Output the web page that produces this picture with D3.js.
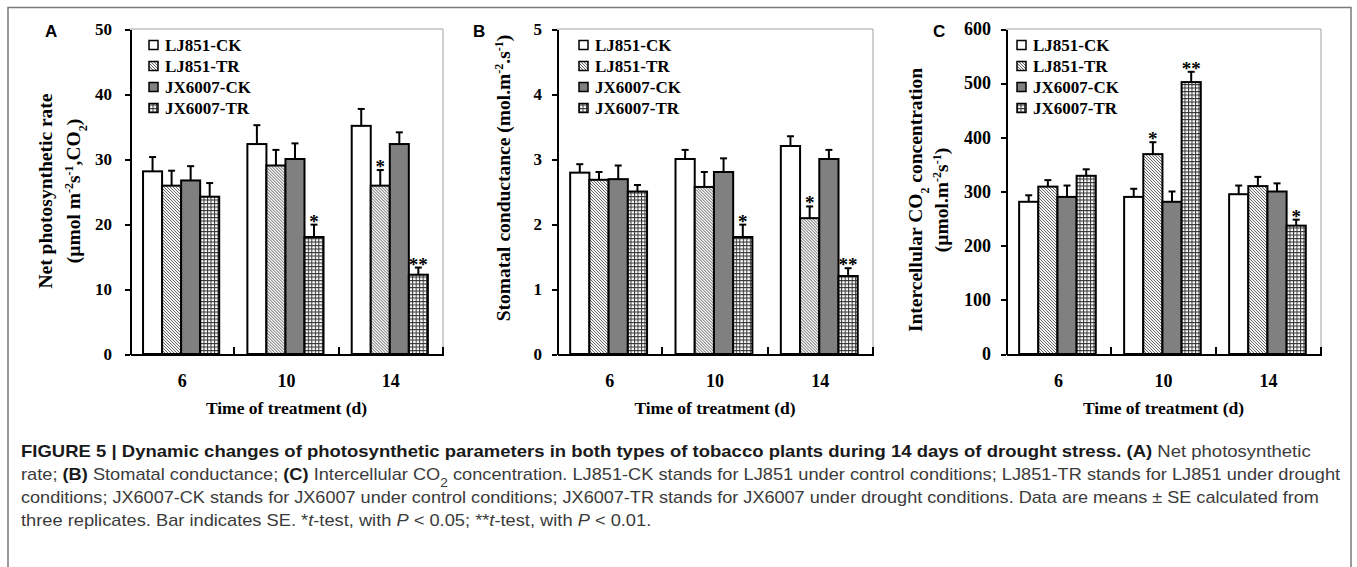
<!DOCTYPE html>
<html lang="en">
<head>
<meta charset="utf-8">
<title>Figure 5</title>
<script src="https://cdn.jsdelivr.net/npm/d3@7"></script>
<style>
  body { margin: 0; background: #fff; }
  .axis path, .axis line { stroke: #000; stroke-width: 2; shape-rendering: crispEdges; }
</style>
</head>
<body>
<script>
// categories and series
var times = ["6", "10", "14"];
var series = ["LJ851-CK", "LJ851-TR", "JX6007-CK", "JX6007-TR"];

// A: net photosynthetic rate, rows = time, cols = series
var netPhoto = [[28.1, 25.9, 26.7, 24.2], [32.3, 29.0, 30.0, 18.0], [35.1, 25.9, 32.3, 12.2]];
var netPhotoSE = [[2.2, 2.3, 2.2, 2.1], [2.9, 2.4, 2.4, 1.9], [2.6, 2.4, 1.8, 1.1]];
var netPhotoSig = [["", "", "", ""], ["", "", "", "*"], ["", "*", "", "**"]];
var netPhotoTicks = [0, 10, 20, 30, 40, 50];

// B: stomatal conductance
var stomatal = [[2.79, 2.68, 2.69, 2.50], [3.0, 2.57, 2.8, 1.8], [3.2, 2.09, 3.0, 1.2]];
var stomatalSE = [[0.13, 0.12, 0.21, 0.10], [0.14, 0.23, 0.21, 0.19], [0.15, 0.18, 0.14, 0.12]];
var stomatalSig = [["", "", "", ""], ["", "", "", "*"], ["", "*", "", "**"]];
var stomatalTicks = [0, 1, 2, 3, 4, 5];

// C: intercellular CO2 concentration
var intercell = [[281, 309, 290, 329], [290, 369, 281, 502], [295, 310, 300, 237]];
var intercellSE = [[12, 12, 21, 12], [15, 22, 19, 19], [16, 17, 15, 11]];
var intercellSig = [["", "", "", ""], ["", "*", "", "**"], ["", "", "", "*"]];
var intercellTicks = [0, 100, 200, 300, 400, 500, 600];

var serif = "'Liberation Serif','Times New Roman',serif";
var sans = "'Liberation Sans',Arial,sans-serif";

var svg = d3.select("body").append("svg")
    .attr("width", 1357).attr("height", 567);

// patterns for the bar fills
var defs = svg.append("defs");
var hatch = defs.append("pattern").attr("id", "hatch")
    .attr("patternUnits", "userSpaceOnUse").attr("width", 3).attr("height", 3);
hatch.append("rect").attr("width", 3).attr("height", 3).attr("fill", "#f4f4f4");
hatch.append("path").attr("d", "M-1,-1L4,4M2,-1L4,1M-1,2L1,4")
    .attr("stroke", "#5a5a5a").attr("stroke-width", 0.9);
var grid = defs.append("pattern").attr("id", "grid")
    .attr("patternUnits", "userSpaceOnUse").attr("width", 3.5).attr("height", 3.5);
grid.append("rect").attr("width", 3.5).attr("height", 3.5).attr("fill", "#fff");
grid.append("path").attr("d", "M0,0.5H3.5M0.5,0V3.5")
    .attr("stroke", "#333").attr("stroke-width", 1);

var fills = ["#fff", "url(#hatch)", "#808080", "url(#grid)"];

// outer figure frame
svg.append("path").attr("d", "M8,567V7.5H1351V567")
    .attr("fill", "none").attr("stroke", "#7a7a7a").attr("stroke-width", 1.5);

var plotTop = 29, plotBottom = 354;

var panels = [
  {letter: "A", lx: 45, left: 130, right: 443, values: netPhoto, se: netPhotoSE, sig: netPhotoSig,
   ticks: netPhotoTicks, pad: 13, tickFont: 17, legX: 149,
   titles: [{x: 52, yc: 191, parts: [["Net photosynthetic rate"]]},
            {x: 80, yc: 191, parts: [["(\u00b5mol m"], ["-2", "sup"], ["s"], ["-1", "sup"], [",CO"], ["2", "sub"], [")"]]}]},
  {letter: "B", lx: 473, left: 557, right: 873, values: stomatal, se: stomatalSE, sig: stomatalSig,
   ticks: stomatalTicks, pad: 10, tickFont: 17, legX: 579,
   titles: [{x: 510, yc: 178, parts: [["Stomatal conductance (mol.m"], ["-2", "sup"], [".s"], ["-1", "sup"], [")"]]}]},
  {letter: "C", lx: 933, left: 1006, right: 1321, values: intercell, se: intercellSE, sig: intercellSig,
   ticks: intercellTicks, pad: 10, tickFont: 18, legX: 1017,
   titles: [{x: 922, yc: 200, parts: [["Intercellular CO"], ["2", "sub"], [" concentration"]]},
            {x: 948, yc: 200, parts: [["(\u00b5mol.m"], ["-2", "sup"], ["s"], ["-1", "sup"], [")"]]}]}
];

panels.forEach(function(p) {
    var dom = [p.ticks[0], p.ticks[p.ticks.length - 1]];
    var y = d3.scaleLinear().domain(dom).range([plotBottom, plotTop]);
    var x0 = d3.scaleBand().domain(times).range([p.left, p.right]);
    var bw = x0.bandwidth();
    var x1 = d3.scaleBand().domain(series).range([bw * 0.125, bw * 0.855]);

    var g = svg.append("g");

    // light plot frame (top and right)
    g.append("path")
        .attr("d", "M" + p.left + "," + plotTop + "H" + p.right + "V" + plotBottom)
        .attr("fill", "none").attr("stroke", "#a0a0a0").attr("stroke-width", 1);

    // bars
    var groups = g.selectAll(".grp").data(times).enter().append("g")
        .attr("transform", function(t) { return "translate(" + x0(t) + ",0)"; });

    groups.each(function(t, i) {
        var rows = series.map(function(s, j) {
            return {s: s, j: j, v: p.values[i][j], e: p.se[i][j], sig: p.sig[i][j]};
        });
        var gg = d3.select(this);
        gg.selectAll("rect").data(rows).enter().append("rect")
            .attr("x", function(d) { return x1(d.s); })
            .attr("y", function(d) { return y(d.v); })
            .attr("width", x1.bandwidth())
            .attr("height", function(d) { return plotBottom - y(d.v); })
            .attr("fill", function(d) { return fills[d.j]; })
            .attr("stroke", "#000").attr("stroke-width", 2);
        // error bars
        rows.forEach(function(d) {
            var cx = x1(d.s) + x1.bandwidth() / 2;
            var yt = y(d.v + d.e);
            gg.append("line").attr("x1", cx).attr("x2", cx)
                .attr("y1", y(d.v)).attr("y2", yt)
                .attr("stroke", "#000").attr("stroke-width", 2);
            gg.append("line").attr("x1", cx - 3.5).attr("x2", cx + 3.5)
                .attr("y1", yt).attr("y2", yt)
                .attr("stroke", "#000").attr("stroke-width", 2);
            if (d.sig) {
                gg.append("text").attr("x", cx).attr("y", yt + 3)
                    .attr("text-anchor", "middle")
                    .style("font-family", serif).style("font-weight", "bold").style("font-size", "19px")
                    .text(d.sig);
            }
        });
    });

    // y axis
    var yAxis = d3.axisLeft(y).tickValues(p.ticks).tickFormat(d3.format("d"))
        .tickSize(5).tickSizeOuter(0).tickPadding(p.pad);
    var ya = g.append("g").attr("class", "axis")
        .attr("transform", "translate(" + p.left + ",0)")
        .call(yAxis);
    ya.selectAll("text").style("font-family", serif).style("font-weight", "bold")
        .style("font-size", p.tickFont + "px").attr("fill", "#000");

    // x axis
    var xAxis = d3.axisBottom(x0).tickSize(0).tickSizeOuter(0).tickPadding(20);
    var xa = g.append("g").attr("class", "axis")
        .attr("transform", "translate(0," + plotBottom + ")")
        .call(xAxis);
    xa.selectAll("text").style("font-family", serif).style("font-weight", "bold")
        .style("font-size", "18px").attr("fill", "#000");
    // group separator ticks pointing up
    xa.selectAll(".sep").data(times).enter().append("line")
        .attr("x1", function(t) { return x0(t) + bw; })
        .attr("x2", function(t) { return x0(t) + bw; })
        .attr("y1", 0).attr("y2", -7);

    g.append("text")
        .attr("x", (p.left + p.right) / 2).attr("y", 414)
        .attr("text-anchor", "middle")
        .style("font-family", serif).style("font-weight", "bold").style("font-size", "17.5px")
        .text("Time of treatment (d)");

    // y titles
    p.titles.forEach(function(t) {
        var tx = g.append("text")
            .attr("transform", "translate(" + t.x + "," + t.yc + ") rotate(-90)")
            .attr("text-anchor", "middle")
            .style("font-family", serif).style("font-weight", "bold").style("font-size", "19.5px");
        t.parts.forEach(function(pt) {
            var ts = tx.append("tspan").text(pt[0]);
            if (pt[1] === "sup") ts.attr("baseline-shift", "super").style("font-size", "12px");
            if (pt[1] === "sub") ts.attr("baseline-shift", "sub").style("font-size", "12px");
        });
    });

    // panel letter
    g.append("text").attr("x", p.lx).attr("y", 37)
        .style("font-family", sans).style("font-weight", "bold").style("font-size", "17px")
        .text(p.letter);

    // legend
    var leg = g.selectAll(".legend").data(series).enter().append("g")
        .attr("transform", function(d, i) { return "translate(" + p.legX + "," + (45 + i * 21) + ")"; });
    leg.append("rect").attr("x", 0).attr("y", -4.5).attr("width", 9).attr("height", 9)
        .attr("fill", function(d, i) { return fills[i]; })
        .attr("stroke", "#000").attr("stroke-width", 1.5);
    leg.append("text").attr("x", 16).attr("y", 6)
        .style("font-family", serif).style("font-weight", "bold").style("font-size", "17px")
        .text(function(d) { return d; });
});

// caption
var captionLines = [
  [["FIGURE 5 | Dynamic changes of photosynthetic parameters in both types of tobacco plants during 14 days of drought stress. (A)", "b"], [" Net photosynthetic", "n"]],
  [["rate; ", "n"], ["(B)", "b"], [" Stomatal conductance; ", "n"], ["(C)", "b"], [" Intercellular CO", "n"], ["2", "sub"],
   [" concentration. LJ851-CK stands for LJ851 under control conditions; LJ851-TR stands for LJ851 under drought", "n"]],
  [["conditions; JX6007-CK stands for JX6007 under control conditions; JX6007-TR stands for JX6007 under drought conditions. Data are means \u00b1 SE calculated from", "n"]],
  [["three replicates. Bar indicates SE. *", "n"], ["t", "i"], ["-test, with ", "n"], ["P", "i"], [" < 0.05; **", "n"],
   ["t", "i"], ["-test, with ", "n"], ["P", "i"], [" < 0.01.", "n"]]
];
var captionRight = [1311, 1341, 1320, null];
var capX = 21;
var scales = [];
captionLines.forEach(function(line, li) {
    var t = svg.append("text")
        .attr("transform", "translate(" + capX + "," + (457 + li * 23) + ")")
        .style("font-family", sans).style("font-size", "16px").attr("fill", "#3a3a3a");
    line.forEach(function(seg) {
        var ts = t.append("tspan").text(seg[0]);
        if (seg[1] === "b") ts.style("font-weight", "bold").attr("fill", "#1a1a1a");
        if (seg[1] === "i") ts.style("font-style", "italic");
        if (seg[1] === "sub") ts.attr("baseline-shift", "sub").style("font-size", "12px");
    });
    var w = t.node().getComputedTextLength();
    var s = captionRight[li] ? (captionRight[li] - capX) / w : d3.mean(scales);
    scales.push(s);
    t.attr("transform", "translate(" + capX + "," + (457 + li * 23) + ") scale(" + s + ",1)");
});
</script>
</body>
</html>
